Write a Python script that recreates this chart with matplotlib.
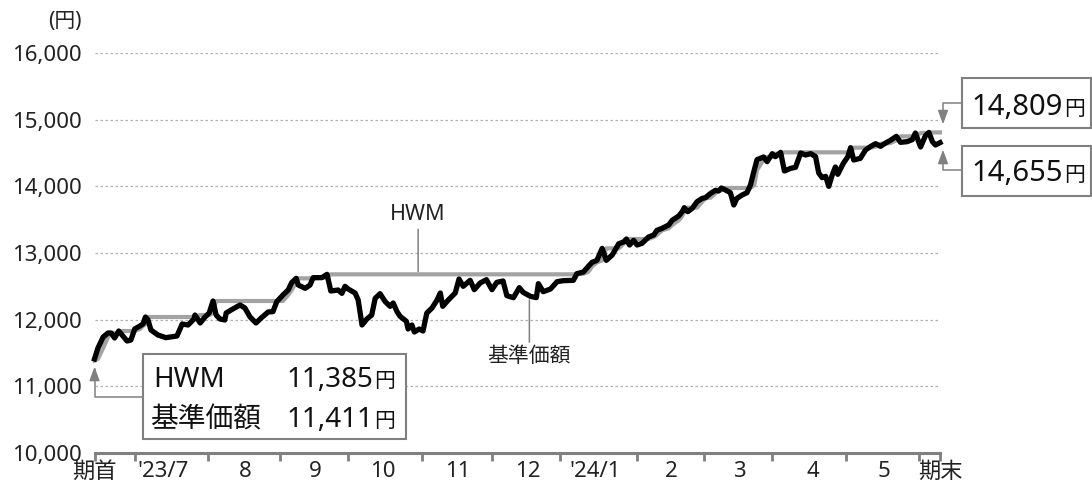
import numpy as np
import matplotlib
matplotlib.use("Agg")
import matplotlib.pyplot as plt
from matplotlib.patches import Rectangle, FancyArrowPatch
from matplotlib.path import Path
from matplotlib.transforms import IdentityTransform

plt.rcParams['font.family'] = ['Noto Sans', 'Noto Sans CJK JP', 'DejaVu Sans']

# business-day position (from 期首) and NAV
day = [0.0, 1.0, 2.5, 3.9, 4.8, 5.8, 7.0, 8.2, 9.4, 10.5, 11.6, 13.1, 14.0, 14.7, 15.4,
       16.3, 18.3, 20.6, 21.8, 23.8, 25.3, 27.0, 28.7, 29.0, 30.5, 31.9, 33.1, 34.2, 35.1,
       36.2, 37.6, 38.0, 39.4, 42.0, 43.4, 44.9, 46.6, 48.1, 50.1, 51.5, 52.6, 54.4, 55.9,
       56.9, 58.2, 58.8, 60.8, 62.2, 63.1, 65.6, 67.1, 68.2, 70.3, 71.4, 72.3, 73.2, 75.2,
       76.1, 77.2, 78.6, 80.0, 81.0, 82.4, 83.9, 85.3, 86.2, 87.3, 88.2, 90.0, 90.5, 91.6,
       92.3, 93.7, 94.8, 95.9, 97.4, 98.8, 99.8, 100.5, 102.1, 104.1, 105.2, 106.4, 108.4,
       109.6, 111.3, 113.1, 114.7, 116.1, 117.9, 119.0, 120.9, 122.6, 123.7, 125.8, 127.5,
       128.1, 129.5, 131.6, 133.5, 135.3, 138.2, 139.2, 141.1, 142.5, 143.6, 145.0, 146.5,
       147.7, 149.4, 151.3, 152.7, 153.5, 154.4, 155.6, 156.6, 158.0, 159.9, 161.4, 162.3,
       163.8, 165.7, 166.7, 168.6, 169.6, 170.2, 171.2, 172.5, 173.9, 175.4, 176.3, 177.8,
       179.2, 180.1, 180.9, 182.1, 183.5, 184.5, 185.4, 186.9, 188.3, 189.3, 190.4, 191.2,
       193.1, 194.1, 195.6, 196.5, 198.0, 199.1, 200.9, 202.3, 203.8, 205.2, 206.7, 208.1,
       209.0, 210.0, 211.0, 211.9, 212.9, 213.8, 214.5, 216.1, 217.4, 218.2, 219.1, 221.0,
       222.5, 223.9, 225.4, 226.8, 228.3, 229.7, 231.4, 232.6, 234.5, 236.0, 236.9, 238.4,
       239.8, 240.8, 241.8, 242.7, 244.0]
nav = [11411, 11575, 11740, 11800, 11800, 11725, 11830, 11755, 11680, 11695, 11860, 11905,
       11935, 12040, 12000, 11845, 11770, 11730, 11740, 11755, 11935, 11920, 12010, 12070,
       11950, 12040, 12100, 12280, 12070, 12010, 11995, 12100, 12145, 12220, 12175, 12040,
       11950, 12025, 12115, 12120, 12270, 12370, 12445, 12555, 12620, 12520, 12470, 12520,
       12630, 12630, 12680, 12430, 12445, 12395, 12500, 12460, 12400, 12295, 11920, 12010,
       12070, 12320, 12390, 12270, 12200, 12250, 12120, 12050, 11975, 11860, 11920, 11815,
       11860, 11830, 12100, 12175, 12290, 12400, 12200, 12295, 12400, 12610, 12500, 12590,
       12450, 12550, 12600, 12450, 12560, 12580, 12360, 12330, 12480, 12410, 12350, 12330,
       12540, 12420, 12460, 12570, 12585, 12590, 12690, 12715, 12800, 12860, 12890, 13070,
       12890, 12970, 13140, 13165, 13210, 13120, 13190, 13120, 13145, 13240, 13270, 13340,
       13370, 13420, 13490, 13555, 13620, 13680, 13620, 13670, 13770, 13820, 13830, 13895,
       13940, 13930, 13975, 13945, 13905, 13720, 13820, 13870, 13905, 14020, 14245, 14400,
       14440, 14370, 14490, 14445, 14510, 14230, 14270, 14285, 14500, 14470, 14490, 14445,
       14200, 14130, 14150, 14000, 14170, 14290, 14180, 14345, 14445, 14580, 14395, 14420,
       14545, 14595, 14640, 14600, 14650, 14690, 14750, 14660, 14670, 14700, 14800, 14590,
       14760, 14809, 14670, 14620, 14655]
hwm_start = 11385

month_end_days = [0, 11.7, 32.8, 53.6, 73.2, 94.6, 114.8, 134.4, 156.7, 176.0, 195.4, 217.0, 237.8, 244]
label_days = [0, 19.8, 43.4, 63.7, 83.3, 104.7, 124.9, 144.5, 166.5, 186.1, 207.3, 227.9, 244]
month_labels = ['期首', "'23/7", '8', '9', '10', '11', '12', "'24/1", '2', '3', '4', '5', '期末']
y_ticks = [10000, 11000, 12000, 13000, 14000, 15000, 16000]

day = np.array(day)
nav = np.array(nav)
# HWM = highest NAV reached up to the previous day
hwm = np.maximum.accumulate(np.r_[hwm_start, nav[:-1]])

W, H = 1092, 488
fig = plt.figure(figsize=(W / 100, H / 100), dpi=100)
ax = fig.add_axes([94.5 / W, 35 / H, (940 - 94.5) / W, 400 / H])
ax.set_xlim(0, 244)
ax.set_ylim(10000, 16000)

for v in y_ticks[1:]:
    ax.axhline(v, color='#b0b0b0', lw=0.9, ls=(0, (2, 2)), zorder=1)

ax.plot(day, hwm, color='#a3a3a3', lw=3.0, zorder=2, clip_on=False)
ax.plot(day, nav, color='black', lw=3.8, zorder=3, clip_on=False)

ax.set_yticks(y_ticks)
ax.set_yticklabels([f'{v:,}' for v in y_ticks])
ax.tick_params(axis='y', length=0, pad=9, labelsize=16, labelcolor='#222222')

ax.xaxis.remove_overlapping_locs = False
ax.set_xticks(label_days)
ax.set_xticklabels(month_labels)
ax.set_xticks(month_end_days, minor=True)
ax.tick_params(axis='x', which='major', length=0, pad=6, labelsize=16, labelcolor='#222222')
ax.tick_params(axis='x', which='minor', length=6, width=2, color='#808080')

for s in ['left', 'top', 'right']:
    ax.spines[s].set_visible(False)
ax.spines['bottom'].set_color('#808080')
ax.spines['bottom'].set_linewidth(2.2)

fig.text(82, H - 22, '(円)', transform=IdentityTransform(), ha='right', va='center',
         fontsize=15, color='#222222')

# HWM / 基準価額 labels
hx = 93.4
ax.annotate('HWM', xy=(hx, np.interp(hx, day, hwm)), xytext=(0, 43), textcoords='offset points',
            ha='center', va='center', fontsize=15.5, color='#222222',
            arrowprops=dict(arrowstyle='-', color='#808080', lw=1.1, shrinkA=1, shrinkB=2))
nx = 125.5
ax.annotate('基準価額', xy=(nx, np.interp(nx, day, nav)), xytext=(0, -44), textcoords='offset points',
            ha='center', va='center', fontsize=15, color='#222222',
            arrowprops=dict(arrowstyle='-', color='#808080', lw=1.1, shrinkA=1, shrinkB=3))

ident = IdentityTransform()
gray = '#808080'


def box(x0, y0, x1, y1):
    fig.add_artist(Rectangle((x0, H - y1), x1 - x0, y1 - y0, transform=ident,
                             facecolor='white', edgecolor=gray, lw=1.5, zorder=5))


def yen(xr, yb, num, size=20):
    fig.text(xr, H - yb, num, transform=ident, ha='right', va='baseline', fontsize=size,
             color='#111111', zorder=6)
    fig.text(xr + 1, H - yb, '円', transform=ident, ha='left', va='baseline', fontsize=15,
             color='#111111', zorder=6)


def connector(pts):
    path = Path([(x, H - y) for x, y in pts])
    fig.add_artist(FancyArrowPatch(path=path, arrowstyle='-|>,head_length=0.6,head_width=0.22',
                                   mutation_scale=14, color=gray, lw=1.1, transform=ident,
                                   shrinkA=0, shrinkB=0, zorder=5))


# start values
sx, sy = ax.transData.transform((day[0], min(nav[0], hwm[0])))
sy = H - sy
connector([(143, 397), (sx, 397), (sx, sy + 6)])
box(143, 354, 406, 439)
fig.text(153, H - 387, 'HWM', transform=ident, ha='left', va='baseline', fontsize=20,
         color='#111111', zorder=6)
yen(373, 387, f'{hwm_start:,}')
fig.text(150, H - 427, '基準価額', transform=ident, ha='left', va='baseline', fontsize=20,
         color='#111111', zorder=6)
yen(373, 427, f'{nav[0]:,}')

# end values
ex, ey1 = ax.transData.transform((day[-1], hwm[-1]))
_, ey2 = ax.transData.transform((day[-1], nav[-1]))
ex = ex + 3
connector([(962, 103), (ex, 103), (ex, H - ey1 - 8)])
connector([(962, 170), (ex, 170), (ex, H - ey2 + 7)])
box(962, 78, 1091, 128)
box(962, 146, 1091, 196)
yen(1063, 115, f'{hwm[-1]:,}', 21)
yen(1063, 181, f'{nav[-1]:,}', 21)

fig.savefig('out.png', dpi=100)
